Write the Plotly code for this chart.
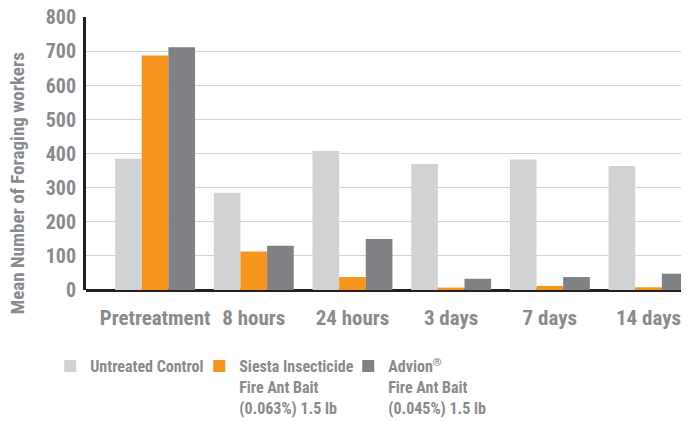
import plotly.graph_objects as go

categories = ["Pretreatment", "8 hours", "24 hours", "3 days", "7 days", "14 days"]
control = [385, 285, 408, 370, 383, 364]
siesta = [688, 113, 38, 7, 12, 8]
advion = [712, 130, 150, 33, 38, 48]
series_names = [
    "Untreated Control",
    "Siesta Insecticide<br>Fire Ant Bait<br>(0.063%) 1.5 lb",
    "Advion<sup>®</sup><br>Fire Ant Bait<br>(0.045%) 1.5 lb",
]
y_title = "Mean Number of Foraging workers"
y_ticks = [0, 100, 200, 300, 400, 500, 600, 700, 800]

colors = ["#d1d2d4", "#f7941d", "#808184"]
FONT = "Roboto Condensed, Open Sans Condensed, sans-serif"
TXT = "#8a8b8e"

fig = go.Figure()
for name, vals, col in zip(series_names, [control, siesta, advion], colors):
    fig.add_trace(go.Bar(x=categories, y=vals, name=name, marker=dict(color=col, line=dict(width=0))))

fig.add_annotation(
    text=y_title, textangle=-90, showarrow=False,
    xref="paper", yref="paper", x=-0.1133, y=0.39, xanchor="center", yanchor="middle",
    font=dict(family=FONT, size=19, color=TXT, weight="bold"),
)

fig.update_layout(
    width=681, height=413,
    margin=dict(l=78, r=0, t=9, b=131, autoexpand=False),
    paper_bgcolor="white", plot_bgcolor="white",
    barmode="group", bargap=0.19, bargroupgap=0,
    font=dict(family=FONT, color=TXT, size=16),
    showlegend=True,
    legend=dict(
        orientation="h", xref="container", yref="container",
        x=0.062, y=0.174, xanchor="left", yanchor="top",
        entrywidth=104, entrywidthmode="pixels",
        valign="top", itemwidth=30, tracegroupgap=0,
        font=dict(family=FONT, size=16, color=TXT, weight="bold"),
        traceorder="normal",
    ),
    xaxis=dict(
        range=[-0.70, 5.41], showgrid=False, showline=False, ticks="",
        ticklabelstandoff=13, zeroline=False,
        tickfont=dict(family=FONT, size=21, color=TXT, weight="bold"),
    ),
    yaxis=dict(
        range=[0, 801], tickvals=y_ticks, showgrid=True, gridcolor="#d3d3d3", gridwidth=1,
        showline=True, linecolor="#231f20", linewidth=3, zeroline=True, zerolinecolor="#231f20",
        zerolinewidth=3, ticks="", ticklabelstandoff=3, ticklabeloverflow="allow",
        tickfont=dict(family=FONT, size=20, color=TXT, weight="bold"),
    ),
)

fig.write_html("out.html")
